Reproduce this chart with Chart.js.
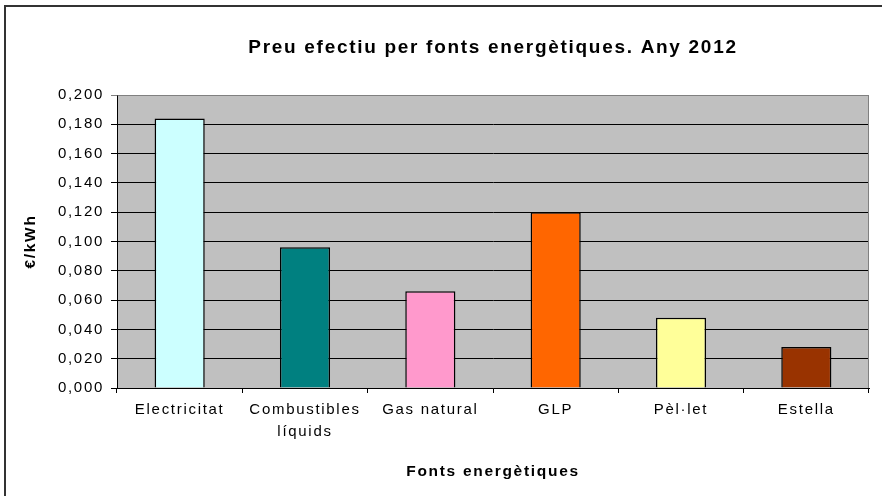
<!DOCTYPE html>
<html>
<head>
<meta charset="utf-8">
<script src="https://cdn.jsdelivr.net/npm/chart.js@4"></script>
<style>
  html, body { margin: 0; padding: 0; background: #fff; overflow: hidden; }
  #wrap { position: relative; width: 882px; height: 496px; }
  #frame { position: absolute; left: 4px; top: 5px; width: 1000px; height: 1000px;
           border-top: 2px solid #333; border-left: 2px solid #333; pointer-events: none; }
</style>
</head>
<body>
<div id="wrap">
  <canvas id="priceChart" width="882" height="496"></canvas>
  <div id="frame"></div>
</div>
<script>
// Preu efectiu per fonts energètiques (any 2012)
const categories = ['Electricitat', ['Combustibles', 'líquids'], 'Gas natural', 'GLP', 'Pèl·let', 'Estella'];
const prices = [0.184, 0.096, 0.066, 0.120, 0.048, 0.028];
const barColors = ['#CCFFFF', '#008080', '#FF99CC', '#FF6600', '#FFFF99', '#993300'];
const yTickLabels = ['0,000', '0,020', '0,040', '0,060', '0,080', '0,100', '0,120', '0,140', '0,160', '0,180', '0,200'];

const FONT = "'Liberation Sans', Arial, sans-serif";
const SPACING = '1.7px';

// excel look: grey plot area, a bit of letter spacing
const excelLook = {
    id: 'excelLook',
    beforeUpdate(chart) {
        chart.ctx.letterSpacing = SPACING;
    },
    beforeDraw(chart) {
        const { ctx, chartArea: a } = chart;
        ctx.letterSpacing = SPACING;
        ctx.save();
        ctx.fillStyle = '#C0C0C0';
        ctx.fillRect(a.left, a.top, a.right - a.left, a.bottom - a.top);
        ctx.restore();
    },
    beforeDatasetsDraw(chart) {
        const { ctx, chartArea: a } = chart;
        ctx.save();
        ctx.strokeStyle = '#808080';
        ctx.lineWidth = 1;
        ctx.beginPath();
        ctx.moveTo(Math.round(a.left) + 0.5, Math.round(a.top) + 0.5);
        ctx.lineTo(Math.round(a.right) - 0.5, Math.round(a.top) + 0.5);
        ctx.lineTo(Math.round(a.right) - 0.5, Math.round(a.bottom));
        ctx.stroke();
        ctx.restore();
    }
};

const ctx = document.getElementById('priceChart').getContext('2d');
const priceChart = new Chart(ctx, {
    type: 'bar',
    data: {
        labels: categories,
        datasets: [{
            label: '€/kWh',
            data: prices,
            backgroundColor: barColors,
            borderColor: '#000',
            borderWidth: 1.5,
            barPercentage: 0.4,
            categoryPercentage: 1.0
        }]
    },
    plugins: [excelLook],
    options: {
        responsive: false,
        animation: false,
        devicePixelRatio: 1,
        layout: { padding: { left: 0, right: 13, top: 0, bottom: 0 } },
        plugins: {
            legend: { display: false },
            tooltip: { enabled: false },
            title: {
                display: true,
                text: 'Preu efectiu per fonts energètiques. Any 2012',
                fullSize: false,
                color: '#000',
                font: { family: FONT, size: 19, weight: 'bold', lineHeight: 1.2 },
                padding: { top: 36.6, bottom: 35.6 }
            }
        },
        scales: {
            x: {
                afterFit: (scale) => { scale.height = 108; },
                grid: { offset: true, drawOnChartArea: false, drawTicks: true, tickLength: 5, color: '#000' },
                border: { color: '#000', width: 1 },
                ticks: {
                    color: '#000',
                    padding: 6,
                    maxRotation: 0,
                    autoSkip: false,
                    font: { family: FONT, size: 15, lineHeight: 1.47 }
                },
                title: {
                    display: true,
                    text: 'Fonts energètiques',
                    color: '#000',
                    font: { family: FONT, size: 15.5, weight: 'bold', lineHeight: 1.2 },
                    padding: 15
                }
            },
            y: {
                min: 0,
                max: 0.2,
                afterFit: (scale) => { scale.width = 117; },
                grid: {
                    color: (c) => (c.tick && c.tick.value >= 0.2 ? '#808080' : '#000'),
                    lineWidth: 1,
                    tickLength: 6,
                    drawTicks: true
                },
                border: { color: '#000', width: 1 },
                ticks: {
                    stepSize: 0.02,
                    color: '#000',
                    padding: 7,
                    font: { family: FONT, size: 15 },
                    callback: (value, index) => yTickLabels[index]
                },
                title: {
                    display: true,
                    text: '€/kWh',
                    color: '#000',
                    font: { family: FONT, size: 15.5, weight: 'bold', lineHeight: 1.2 },
                    padding: 21
                }
            }
        }
    }
});
</script>
</body>
</html>
